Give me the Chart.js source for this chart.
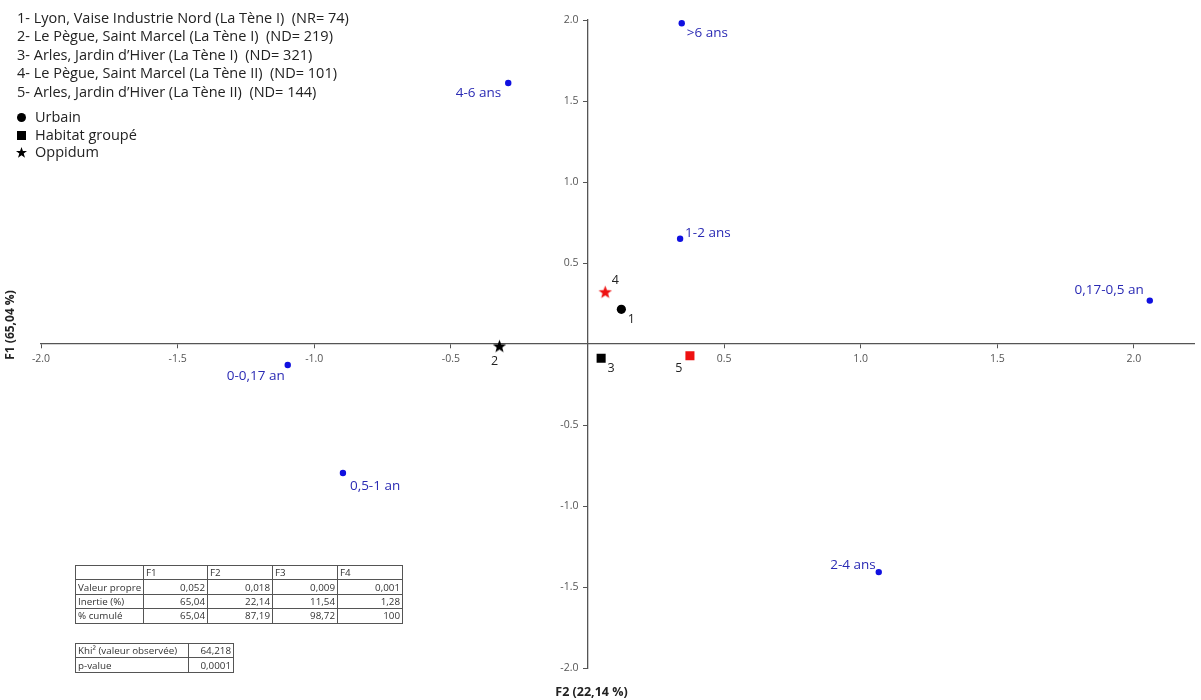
<!DOCTYPE html>
<html lang="fr">
<head>
<meta charset="utf-8">
<title>AFC - classes d'âge</title>
<script src="https://cdn.jsdelivr.net/npm/chart.js@4.4.1/dist/chart.umd.min.js"></script>
<style>
  body { margin: 0; background: #fff; }
  #wrap { position: relative; width: 1201px; height: 700px; font-family: "Open Sans", sans-serif; color: #222; }
  #wrap canvas { position: absolute; left: 0; top: 0; }
  .leg { position: absolute; left: 17px; font-size: 14.5px; line-height: 18px; white-space: pre; }
  .leg svg { vertical-align: -1px; margin-right: 8px; }
  table.stats { position: absolute; left: 75px; border-collapse: collapse; table-layout: fixed;
    font-family: "Open Sans", sans-serif; font-size: 9.8px; color: #333; }
  table.stats td { border: 1px solid #555; height: 13.4px; padding: 0 2px; line-height: 13px; white-space: nowrap; overflow: hidden; }
  table.stats td.num { text-align: right; }
</style>
</head>
<body>
<div id="wrap">
  <canvas id="afc" width="1201" height="700"></canvas>
  <div id="legend"></div>
  <table id="tabFacteurs" class="stats" style="top:565px;width:327px"></table>
  <table id="tabKhi" class="stats" style="top:643px;width:158px"></table>
</div>
<script>
// classes d'âge (modalités)
const ageLabels = ['>6 ans', '4-6 ans', '1-2 ans', '0,17-0,5 an', '0-0,17 an', '0,5-1 an', '2-4 ans'];
const ageF2 = [0.345, -0.290, 0.339, 2.058, -1.097, -0.895, 1.066];
const ageF1 = [1.980, 1.611, 0.650, 0.268, -0.130, -0.796, -1.408];

// sites
const siteNums = ['1', '2', '3', '4', '5'];
const siteNames = [
  'Lyon, Vaise Industrie Nord (La Tène I)  (NR= 74)',
  'Le Pègue, Saint Marcel (La Tène I)  (ND= 219)',
  'Arles, Jardin d\u2019Hiver (La Tène I)  (ND= 321)',
  'Le Pègue, Saint Marcel (La Tène II)  (ND= 101)',
  'Arles, Jardin d\u2019Hiver (La Tène II)  (ND= 144)'
];
const siteF2 = [0.124, -0.322, 0.050, 0.065, 0.375];
const siteF1 = [0.214, -0.012, -0.088, 0.322, -0.072];
const siteType = ['Urbain', 'Oppidum', 'Habitat groupé', 'Oppidum', 'Habitat groupé'];
const sitePeriod = ['I', 'I', 'I', 'II', 'II'];
const typeNames = ['Urbain', 'Habitat groupé', 'Oppidum'];

// axes
const xTicks = [-2, -1.5, -1, -0.5, 0.5, 1, 1.5, 2];
const yTicks = [-2, -1.5, -1, -0.5, 0.5, 1, 1.5, 2];
const xTitle = 'F2 (22,14 %)';
const yTitle = 'F1 (65,04 %)';

// tableaux
const factHeads = ['F1', 'F2', 'F3', 'F4'];
const valeurPropre = ['0,052', '0,018', '0,009', '0,001'];
const inertie = ['65,04', '22,14', '11,54', '1,28'];
const cumule = ['65,04', '87,19', '98,72', '100'];
const khi2 = '64,218';
const pValue = '0,0001';

// placement des étiquettes (dx, dy, alignement)
const ageLabelPos = [[5, 10, 'left'], [-7, 10.5, 'right'], [5, -6, 'left'], [-6, -10.5, 'right'],
                     [-3, 11, 'right'], [7, 13, 'left'], [-3, -7, 'right']];
const siteLabelPos = [[10, 10, 'center'], [-5, 15, 'center'], [10, 10, 'center'], [10, -11, 'center'], [-11, 13, 'center']];

const FONT = '"Open Sans", sans-serif';
const BLUE = '#1010e0';
const RED = '#ee1111';

function starImage(color) {
  const c = document.createElement('canvas');
  c.width = 15; c.height = 15;
  const g = c.getContext('2d');
  g.fillStyle = color;
  g.beginPath();
  for (let i = 0; i < 10; i++) {
    const r = i % 2 ? 2.9 : 7;
    const a = -Math.PI / 2 + i * Math.PI / 5;
    g.lineTo(7.5 + r * Math.cos(a), 8.2 + r * Math.sin(a));
  }
  g.closePath();
  g.fill();
  return c;
}
const stars = { I: starImage('#000'), II: starImage(RED) };

function siteStyle(i) {
  if (siteType[i] === 'Oppidum') return stars[sitePeriod[i]];
  if (siteType[i] === 'Habitat groupé') return 'rect';
  return 'circle';
}

// légende
function markerSvg(type) {
  if (type === 'Urbain') return '<svg width="11" height="11"><circle cx="5.5" cy="5.5" r="4.5" fill="#000"/></svg>';
  if (type === 'Habitat groupé') return '<svg width="11" height="11"><rect x="1" y="1" width="9" height="9" fill="#000"/></svg>';
  return '<svg width="11" height="11"><polygon points="5.5,0 6.9,4 11,4 7.7,6.6 9,10.8 5.5,8.3 2,10.8 3.3,6.6 0,4 4.1,4" fill="#000"/></svg>';
}
const legend = document.getElementById('legend');
siteNames.forEach((n, i) => {
  const d = document.createElement('div');
  d.className = 'leg';
  d.style.top = (9 + i * 18.4) + 'px';
  d.textContent = siteNums[i] + '- ' + n;
  legend.appendChild(d);
});
typeNames.forEach((t, i) => {
  const d = document.createElement('div');
  d.className = 'leg';
  d.style.top = (108 + i * 17.6) + 'px';
  d.style.left = '16px';
  d.innerHTML = markerSvg(t) + t;
  legend.appendChild(d);
});

// tableaux
function fillTable(id, widths, rows) {
  const tab = document.getElementById(id);
  const cg = document.createElement('colgroup');
  widths.forEach(w => { const c = document.createElement('col'); c.style.width = w + 'px'; cg.appendChild(c); });
  tab.appendChild(cg);
  rows.forEach((r, ri) => {
    const tr = document.createElement('tr');
    r.forEach((v, ci) => {
      const td = document.createElement('td');
      td.textContent = v;
      if (ci > 0 && !(id === 'tabFacteurs' && ri === 0)) td.className = 'num';
      tr.appendChild(td);
    });
    tab.appendChild(tr);
  });
}
fillTable('tabFacteurs', [68, 64, 65, 65, 65], [
  [''].concat(factHeads),
  ['Valeur propre'].concat(valeurPropre),
  ['Inertie (%)'].concat(inertie),
  ['% cumulé'].concat(cumule)
]);
fillTable('tabKhi', [113, 45], [
  ['Khi\u00b2 (valeur observée)', khi2],
  ['p-value', pValue]
]);

// étiquettes des points
const pointLabels = {
  id: 'pointLabels',
  afterDatasetsDraw(chart) {
    const ctx = chart.ctx;
    chart.data.datasets.forEach((ds, di) => {
      const meta = chart.getDatasetMeta(di);
      meta.data.forEach((pt, i) => {
        const [dx, dy, align] = ds.labelPos[i];
        ctx.save();
        ctx.font = ds.labelFont;
        ctx.fillStyle = ds.labelColor;
        ctx.textAlign = align;
        ctx.textBaseline = 'middle';
        ctx.fillText(ds.labels[i], pt.x + dx, pt.y + dy);
        ctx.restore();
      });
    });
  }
};

// titres des axes
const axisTitles = {
  id: 'axisTitles',
  afterDraw(chart) {
    const ctx = chart.ctx;
    const x0 = chart.scales.x.getPixelForValue(0);
    const y0 = chart.scales.y.getPixelForValue(0);
    ctx.save();
    ctx.font = 'bold 12.5px ' + FONT;
    ctx.fillStyle = '#222';
    ctx.textAlign = 'center';
    ctx.textBaseline = 'middle';
    ctx.fillText(xTitle, x0 + 4, chart.chartArea.bottom + 24);
    ctx.font = 'bold 12px ' + FONT;
    ctx.translate(11, y0 - 19);
    ctx.rotate(-Math.PI / 2);
    ctx.fillText(yTitle, 0, 0);
    ctx.restore();
  }
};

// les étiquettes de l'axe y centré collent à l'axe : on les décale
const shiftYLabels = {
  id: 'shiftYLabels',
  afterLayout(chart) {
    const s = chart.scales.y;
    s._labelItems = null;
    s.getLabelItems().forEach(it => {
      if (it.options && it.options.translation) it.options.translation[0] -= 9;
    });
  }
};

function axis(ticksList, pos, min, max, pad) {
  return {
    type: 'linear',
    min: min,
    max: max,
    position: pos,
    afterBuildTicks: s => { s.ticks = ticksList.map(v => ({ value: v })); },
    ticks: {
      callback: v => Number(v).toFixed(1),
      font: { family: FONT, size: 10.5 },
      color: '#555',
      padding: pad
    },
    grid: { drawOnChartArea: false, drawTicks: true, tickLength: 4, tickColor: '#555', tickWidth: 1 },
    border: { color: '#555', width: 1.3 }
  };
}

new Chart(document.getElementById('afc'), {
  type: 'scatter',
  data: {
    datasets: [
      {
        label: 'Classes d\u2019âge',
        data: ageF2.map((x, i) => ({ x: x, y: ageF1[i] })),
        pointStyle: 'circle',
        pointRadius: 3.2,
        pointBorderWidth: 0,
        backgroundColor: BLUE,
        borderColor: BLUE,
        labels: ageLabels,
        labelPos: ageLabelPos,
        labelFont: '13.5px ' + FONT,
        labelColor: '#2a2ab4'
      },
      {
        label: 'Sites',
        data: siteF2.map((x, i) => ({ x: x, y: siteF1[i] })),
        pointStyle: ctx => siteStyle(ctx.dataIndex),
        pointRadius: ctx => siteType[ctx.dataIndex] === 'Habitat groupé' ? 6.4 : 4.6,
        pointBorderWidth: 0,
        backgroundColor: ctx => sitePeriod[ctx.dataIndex] === 'II' ? RED : '#000',
        borderColor: ctx => sitePeriod[ctx.dataIndex] === 'II' ? RED : '#000',
        labels: siteNums,
        labelPos: siteLabelPos,
        labelFont: '12.5px ' + FONT,
        labelColor: '#222'
      }
    ]
  },
  options: {
    responsive: false,
    animation: false,
    layout: { padding: { left: 41, right: 0, top: 20, bottom: 32 } },
    plugins: {
      legend: { display: false },
      tooltip: { enabled: false }
    },
    scales: {
      x: axis(xTicks, { y: 0 }, -2, 2.222, 5),
      y: axis(yTicks, { x: 0 }, -2, 2, 4)
    }
  },
  plugins: [shiftYLabels, pointLabels, axisTitles]
});
</script>
</body>
</html>
